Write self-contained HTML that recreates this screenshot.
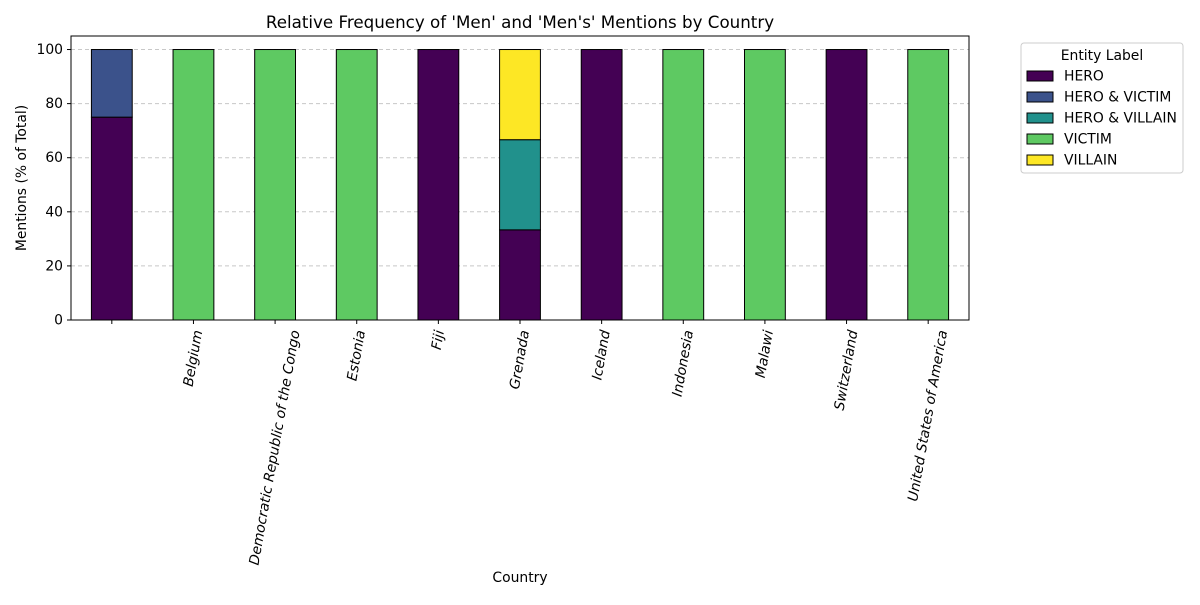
<!DOCTYPE html>
<html><head><meta charset="utf-8"><style>
body{margin:0;background:#fff;}
svg{font-family:"DejaVu Sans","Liberation Sans",sans-serif;}
</style></head><body>
<svg id="chart" width="1200" height="600">
<rect width="1200" height="600" fill="#fff"/>
<text x="520" y="28" text-anchor="middle" font-size="16.7" fill="#000">Relative Frequency of 'Men' and 'Men's' Mentions by Country</text>
<g id="grid"></g>
<g id="bars"></g>
<g id="axes"></g>
<text transform="translate(26,178) rotate(-90)" text-anchor="middle" font-size="13.9">Mentions (% of Total)</text>
<text x="520" y="582" text-anchor="middle" font-size="13.9">Country</text>
<g id="legend">
<rect x="1021" y="43" width="162" height="130" rx="3" fill="#fff" stroke="#ccc"/>
<text x="1102" y="60" text-anchor="middle" font-size="13.9">Entity Label</text>
</g>
</svg>
<script>
const categories=["","Belgium","Democratic Republic of the Congo","Estonia","Fiji","Grenada","Iceland","Indonesia","Malawi","Switzerland","United States of America"];
const seriesNames=["HERO","HERO & VICTIM","HERO & VILLAIN","VICTIM","VILLAIN"];
const colors=["#440154","#3b528b","#21918c","#5ec962","#fde725"];
const hero=[75,0,0,0,100,33.33,100,0,0,100,0];
const heroVictim=[25,0,0,0,0,0,0,0,0,0,0];
const heroVillain=[0,0,0,0,0,33.33,0,0,0,0,0];
const victim=[0,100,100,100,0,0,0,100,100,0,100];
const villain=[0,0,0,0,0,33.34,0,0,0,0,0];
const yTicks=[0,20,40,60,80,100];
const series=[hero,heroVictim,heroVillain,victim,villain];
const NS="http://www.w3.org/2000/svg";
const L=71,R=969,T=36,B=320,yMax=105;
const step=(R-L)/categories.length;
const xS=i=>L+step*(i+0.5);
const yS=v=>B-(v/yMax)*(B-T);
function mk(tag,attrs,parent){const e=document.createElementNS(NS,tag);for(const k in attrs)e.setAttribute(k,attrs[k]);parent.appendChild(e);return e;}
const grid=document.getElementById('grid'),bars=document.getElementById('bars'),axes=document.getElementById('axes'),legend=document.getElementById('legend');
yTicks.forEach(t=>{
  const g=mk('line',{x1:L,x2:R,y1:yS(t),y2:yS(t),stroke:'#c8c8c8','stroke-dasharray':'4,3','stroke-width':1},grid);
  
  
  mk('line',{x1:L-4,x2:L,y1:yS(t),y2:yS(t),stroke:'#000'},axes);
  const lb=mk('text',{x:L-8,y:yS(t)+4.5,'text-anchor':'end','font-size':13.9},axes);
  lb.textContent=t;
  
  
});
const bw=step*0.5;
const s80=Math.sin(80*Math.PI/180),c80=Math.cos(80*Math.PI/180);
categories.forEach((c,i)=>{
  let base=0;
  series.forEach((s,k)=>{
    const v=s[i];
    if(v>0){
      const r=mk('rect',{x:xS(i)-bw/2,y:yS(base+v),width:bw,height:yS(base)-yS(base+v),fill:colors[k],stroke:'#000','stroke-width':1},bars);
      
      
    }
    base+=v;
  });
  mk('line',{x1:xS(i),x2:xS(i),y1:B,y2:B+4,stroke:'#000'},axes);
  const t=mk('text',{'text-anchor':'middle','dominant-baseline':'central','font-size':13.9,'font-style':'italic'},axes);
  t.textContent=c;
  const w=t.getComputedTextLength();
  const h=w*s80+16*c80;
  t.setAttribute('transform',`translate(${xS(i)},${B+9+h/2}) rotate(-80)`);
  
  
});
const frame=mk('rect',{x:L,y:T,width:R-L,height:B-T,fill:'none',stroke:'#000','stroke-width':1},axes);


seriesNames.forEach((n,k)=>{
  const y=76+21*k;
  const p=mk('rect',{x:1027,y:y-5,width:26,height:10,fill:colors[k],stroke:'#000'},legend);
  
  
  const t=mk('text',{x:1064,y:y+4.5,'font-size':13.9},legend);
  t.textContent=n;
  
  
});
</script>
</body></html>
